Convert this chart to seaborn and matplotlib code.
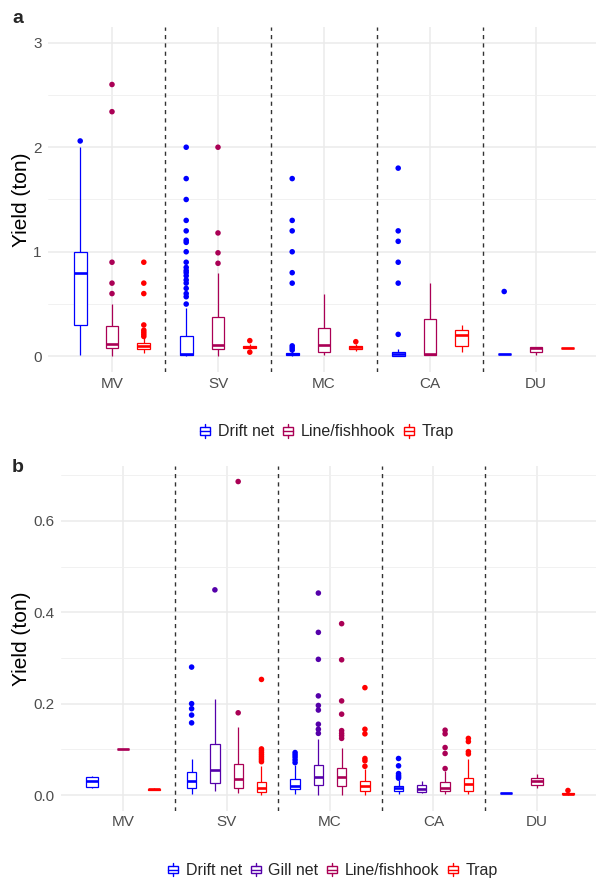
import numpy as np
import pandas as pd
import matplotlib
matplotlib.use('Agg')
import matplotlib.pyplot as plt
import seaborn as sns
from matplotlib.patches import Patch, Rectangle
from matplotlib.lines import Line2D
from matplotlib.legend_handler import HandlerBase
from matplotlib.ticker import MultipleLocator, FormatStrFormatter

# 类别与颜色
regions = ['MV', 'SV', 'MC', 'CA', 'DU']
colors = {'Drift net': '#0000FF', 'Gill net': '#5500AA',
          'Line/fishhook': '#AA0055', 'Trap': '#FF0000'}

# 面板a：箱线图统计量（下须、Q1、中位数、Q3、上须）与离群点
gears_a = ['Drift net', 'Line/fishhook', 'Trap']
a_region = ['MV'] * 3 + ['SV'] * 3 + ['MC'] * 3 + ['CA'] * 3 + ['DU'] * 3
a_gear = gears_a * 5
a_lo = [0.01, 0.00, 0.03, 0.00, 0.00, 0.07, 0.00, 0.01, 0.05, 0.00, 0.01, 0.04, 0.02, 0.01, 0.08]
a_q1 = [0.30, 0.08, 0.07, 0.015, 0.07, 0.08, 0.01, 0.04, 0.07, 0.005, 0.015, 0.10, 0.02, 0.04, 0.08]
a_med = [0.80, 0.12, 0.10, 0.02, 0.105, 0.09, 0.02, 0.105, 0.085, 0.02, 0.02, 0.20, 0.02, 0.08, 0.08]
a_q3 = [1.00, 0.29, 0.13, 0.195, 0.38, 0.10, 0.03, 0.27, 0.10, 0.045, 0.355, 0.255, 0.02, 0.09, 0.08]
a_hi = [2.00, 0.50, 0.18, 0.46, 0.80, 0.12, 0.05, 0.60, 0.12, 0.07, 0.70, 0.30, 0.02, 0.09, 0.08]
a_out = [
    [2.06], [2.60, 2.34, 0.90, 0.70, 0.60], [0.90, 0.70, 0.60, 0.30, 0.25, 0.23, 0.21, 0.19],
    [2.00, 1.70, 1.50, 1.30, 1.20, 1.11, 1.09, 1.00, 0.90, 0.85, 0.82, 0.80, 0.77, 0.73,
     0.70, 0.65, 0.60, 0.57, 0.50],
    [2.00, 1.18, 0.99, 0.89], [0.15, 0.04],
    [1.70, 1.30, 1.20, 1.00, 0.80, 0.70, 0.10, 0.08, 0.06], [], [0.14],
    [1.80, 1.20, 1.10, 0.90, 0.70, 0.21], [], [],
    [0.62], [], [],
]

# 面板b
gears_b = ['Drift net', 'Gill net', 'Line/fishhook', 'Trap']
b_region = ['MV'] * 3 + ['SV'] * 4 + ['MC'] * 4 + ['CA'] * 4 + ['DU'] * 3
b_gear = (['Drift net', 'Line/fishhook', 'Trap'] + gears_b * 3
          + ['Drift net', 'Line/fishhook', 'Trap'])
b_lo = [0.015, 0.100, 0.010, 0.002, 0.009, 0.004, 0.000, 0.003, 0.000, 0.000, 0.000,
        0.002, 0.004, 0.002, 0.002, 0.005, 0.016, 0.001]
b_q1 = [0.018, 0.100, 0.011, 0.015, 0.027, 0.015, 0.006, 0.014, 0.021, 0.020, 0.009,
        0.009, 0.007, 0.009, 0.009, 0.005, 0.023, 0.002]
b_med = [0.031, 0.100, 0.0125, 0.031, 0.055, 0.035, 0.015, 0.020, 0.039, 0.039, 0.020,
         0.015, 0.013, 0.016, 0.024, 0.005, 0.031, 0.003]
b_q3 = [0.040, 0.100, 0.014, 0.050, 0.112, 0.069, 0.029, 0.036, 0.065, 0.060, 0.031,
        0.020, 0.021, 0.028, 0.038, 0.005, 0.038, 0.004]
b_hi = [0.042, 0.100, 0.015, 0.079, 0.210, 0.150, 0.064, 0.065, 0.122, 0.102, 0.056,
        0.032, 0.031, 0.052, 0.079, 0.005, 0.045, 0.005]
b_out = [
    [], [], [],
    [0.28, 0.20, 0.189, 0.175, 0.158], [0.449], [0.686, 0.18],
    [0.253, 0.101, 0.097, 0.093, 0.089, 0.085, 0.081, 0.077, 0.073],
    [0.093, 0.088, 0.083, 0.077, 0.071],
    [0.442, 0.356, 0.297, 0.217, 0.196, 0.186, 0.155, 0.144, 0.135],
    [0.375, 0.296, 0.206, 0.177, 0.141, 0.135, 0.130, 0.124],
    [0.235, 0.144, 0.134, 0.080, 0.075, 0.063],
    [0.080, 0.064, 0.047, 0.043, 0.040, 0.037], [], [0.142, 0.134, 0.104, 0.091, 0.058],
    [0.124, 0.117, 0.095, 0.090],
    [], [], [0.010],
]

sns.set_theme(style='whitegrid')
plt.rcParams['font.family'] = ['Liberation Sans', 'DejaVu Sans']


# 图例里的小箱线图
class BoxKey(HandlerBase):
    def create_artists(self, legend, orig_handle, xdescent, ydescent, width, height, fontsize, trans):
        c = orig_handle.get_edgecolor()
        x0, y0 = -xdescent, -ydescent
        box = Rectangle((x0 + 0.05 * width, y0 + 0.25 * height), 0.9 * width, 0.5 * height,
                        facecolor='white', edgecolor=c, lw=1.0, transform=trans)
        med = Line2D([x0 + 0.05 * width, x0 + 0.95 * width], [y0 + 0.5 * height] * 2,
                     color=c, lw=1.0, transform=trans)
        w1 = Line2D([x0 + 0.5 * width] * 2, [y0 + 0.75 * height, y0 + 0.98 * height],
                    color=c, lw=1.0, transform=trans)
        w2 = Line2D([x0 + 0.5 * width] * 2, [y0 + 0.02 * height, y0 + 0.25 * height],
                    color=c, lw=1.0, transform=trans)
        return [box, med, w1, w2]


def draw_panel(ax, reg, gear, lo, q1, med, q3, hi, outs, gears):
    rows = []
    for i in range(len(reg)):
        for v in [lo[i], q1[i], med[i], q3[i], hi[i]]:
            rows.append([reg[i], gear[i], v])
    df = pd.DataFrame(rows, columns=['region', 'gear', 'value'])

    out_rows = []
    for r in regions:
        present = [g for g in gears if any((reg[i] == r and gear[i] == g) for i in range(len(reg)))]
        n = len(present)
        for g in present:
            sub = df[(df['region'] == r) & (df['gear'] == g)]
            sns.boxplot(data=sub, x='region', y='value', hue='gear', order=regions,
                        hue_order=present, palette=colors, dodge=True, width=0.9, gap=0.6,
                        whis=(0, 100), showfliers=False, showcaps=False, fill=True,
                        linecolor=colors[g], linewidth=0.9,
                        boxprops=dict(facecolor='white', zorder=2),
                        medianprops=dict(linewidth=1.9), legend=False, ax=ax)
            i = [j for j in range(len(reg)) if reg[j] == r and gear[j] == g][0]
            k = present.index(g)
            for v in outs[i]:
                out_rows.append([regions.index(r) + (k - (n - 1) / 2) * 0.9 / n, g, v])
    odf = pd.DataFrame(out_rows, columns=['x', 'gear', 'value'])
    sns.scatterplot(data=odf, x='x', y='value', hue='gear', palette=colors, s=16,
                    linewidth=0, legend=False, ax=ax, zorder=3)

    for j in range(len(regions) - 1):
        ax.axvline(j + 0.5, color='#333333', lw=1.0, ls=(0, (3, 3)), zorder=1.5)

    ax.set_xlim(-0.6, 4.6)
    ax.set_xlabel('')
    ax.set_ylabel('Yield (ton)', fontsize=15, color='black')
    ax.yaxis.label.set_va('center')
    for s in ax.spines.values():
        s.set_visible(False)
    ax.set_axisbelow(True)
    ax.grid(True, which='major', axis='both', color='#EBEBEB', lw=1.1)
    ax.grid(True, which='minor', axis='y', color='#EFEFEF', lw=0.6)
    ax.tick_params(axis='both', which='both', length=0, labelsize=11, labelcolor='#4D4D4D')
    ax.tick_params(axis='y', pad=5)
    ax.tick_params(axis='x', pad=3.5)

    handles = [Patch(edgecolor=colors[g], facecolor='white', label=g) for g in gears]
    ax.legend(handles=handles, handler_map={Patch: BoxKey()}, loc='center',
              bbox_to_anchor=(0.505, -0.173), ncol=len(gears), frameon=False, fontsize=11.5,
              handlelength=0.7, handleheight=1.0, handletextpad=0.45, columnspacing=0.5)


fig = plt.figure(figsize=(5.96, 8.8), dpi=100)
axA = fig.add_axes([48.4 / 596, (880 - 372) / 880, 551.2 / 596, 345 / 880])
axB = fig.add_axes([61 / 596, (880 - 810.6) / 880, 538 / 596, 344.6 / 880])

draw_panel(axA, a_region, a_gear, a_lo, a_q1, a_med, a_q3, a_hi, a_out, gears_a)
axA.set_ylim(-0.15, 3.15)
axA.yaxis.set_major_locator(MultipleLocator(1))
axA.yaxis.set_minor_locator(MultipleLocator(0.5))
axA.yaxis.set_label_coords(-0.048, 0.5)

draw_panel(axB, b_region, b_gear, b_lo, b_q1, b_med, b_q3, b_hi, b_out, gears_b)
axB.set_ylim(-0.034, 0.72)
axB.yaxis.set_major_locator(MultipleLocator(0.2))
axB.yaxis.set_minor_locator(MultipleLocator(0.1))
axB.yaxis.set_major_formatter(FormatStrFormatter('%.1f'))
axB.yaxis.set_label_coords(-0.0734, 0.5)

fig.text(12 / 596, 1 - 23 / 880, 'a', fontsize=14, fontweight='bold', va='baseline')
fig.text(12 / 596, 1 - 472 / 880, 'b', fontsize=14, fontweight='bold', va='baseline')

fig.savefig('out.png', dpi=100)
